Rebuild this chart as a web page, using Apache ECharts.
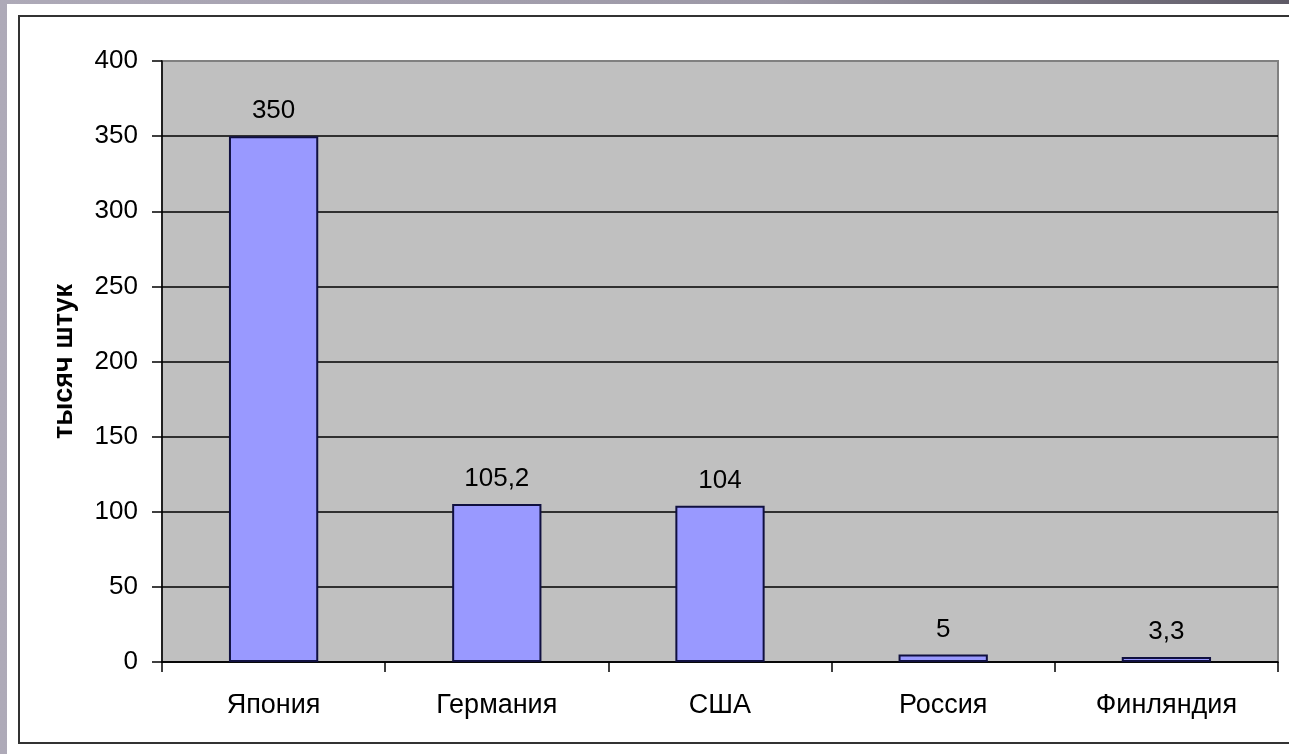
<!DOCTYPE html>
<html>
<head>
<meta charset="utf-8">
<script src="https://cdn.jsdelivr.net/npm/echarts@6/dist/echarts.min.js"></script>
<style>
  html, body { margin: 0; padding: 0; width: 1289px; height: 754px; overflow: hidden; }
  body { background: linear-gradient(to right, #aeaab8 0%, #9c98a6 60%, #5e5a66 100%); position: relative; }
  #panel { position: absolute; left: 7px; top: 4px; right: 0; bottom: 0; background: #ffffff; }
  #frame { position: absolute; left: 18px; top: 15px; width: 1290px; height: 729px; border: 2px solid #333333; box-sizing: border-box; }
  #chart { position: absolute; left: 0; top: 0; width: 1289px; height: 754px; }
</style>
</head>
<body>
<div id="panel"></div>
<div id="frame"></div>
<div id="chart"></div>
<script>
const categories = ['Япония', 'Германия', 'США', 'Россия', 'Финляндия'];
const values = [350, 105.2, 104, 5, 3.3];
const yTicks = [0, 50, 100, 150, 200, 250, 300, 350, 400];
const yAxisName = 'тысяч штук';

const font = 'Liberation Sans, Arial, sans-serif';
const splitColors = yTicks.map((v, i) => i === yTicks.length - 1 ? '#808080' : '#000000');

const chart = echarts.init(document.getElementById('chart'), null, { renderer: 'canvas' });
chart.setOption({
  backgroundColor: 'transparent',
  animation: false,
  grid: {
    left: 162, right: 11, top: 61, bottom: 92,
    show: true, backgroundColor: '#C0C0C0', borderColor: '#808080', borderWidth: 2
  },
  xAxis: {
    type: 'category',
    data: categories,
    boundaryGap: true,
    axisLine: { show: true, lineStyle: { color: '#000000', width: 1.5 } },
    axisTick: { show: true, length: 10, alignWithLabel: false, lineStyle: { color: '#000000', width: 1.5 } },
    axisLabel: { fontSize: 27, color: '#000000', margin: 30, fontFamily: font }
  },
  yAxis: {
    type: 'value',
    min: yTicks[0], max: yTicks[yTicks.length - 1], interval: 50,
    name: yAxisName,
    nameLocation: 'middle',
    nameRotate: 90,
    nameGap: 84,
    nameTextStyle: { fontSize: 27, fontWeight: 'bold', color: '#000000', fontFamily: font },
    axisLine: { show: true, lineStyle: { color: '#000000', width: 1.5 } },
    axisTick: { show: true, length: 10, lineStyle: { color: '#000000', width: 1.5 } },
    axisLabel: { fontSize: 26, color: '#000000', margin: 24, fontFamily: font },
    splitLine: { show: true, lineStyle: { color: splitColors, width: 1.5 } }
  },
  series: [{
    type: 'bar',
    data: values,
    barWidth: '40%',
    itemStyle: { color: '#9999FF', borderColor: '#101040', borderWidth: 2 },
    label: {
      show: true, position: 'top', distance: 12,
      fontSize: 26, color: '#000000', fontFamily: font,
      formatter: p => String(p.value).replace('.', ',')
    }
  }]
});
</script>
</body>
</html>
